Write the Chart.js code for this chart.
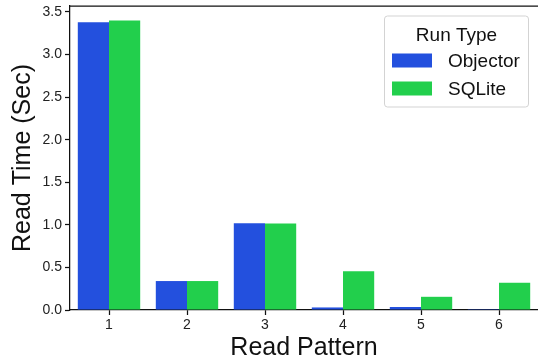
<!DOCTYPE html>
<html>
<head>
<meta charset="utf-8">
<script src="https://cdn.jsdelivr.net/npm/chart.js@4.4.1/dist/chart.umd.min.js"></script>
<style>
  html, body { margin: 0; padding: 0; background: #fff; }
  #wrap { width: 538px; height: 360px; }
</style>
</head>
<body>
<div id="wrap"><canvas id="c" width="538" height="360"></canvas></div>
<script>
// Read patterns on the x axis
const patterns = ['1', '2', '3', '4', '5', '6'];
// Read times in seconds for each run type
const objectorTimes = [3.38, 0.34, 1.02, 0.03, 0.035, 0.01];
const sqliteTimes = [3.40, 0.34, 1.015, 0.455, 0.155, 0.32];
const seriesNames = ['Objector', 'SQLite'];
const legendTitle = 'Run Type';
// Tick values on the time axis
const yTicks = [0, 0.5, 1.0, 1.5, 2.0, 2.5, 3.0, 3.5];

const FONT = "'Liberation Sans', Arial, sans-serif";
const BLUE = '#2350de';
const GREEN = '#22cf4c';

// Legend drawn inside the plot, in the upper right corner
const boxLegend = {
  id: 'boxLegend',
  afterDraw(chart) {
    const ctx = chart.ctx;
    const x = 384.5, y = 16, w = 144, h = 91;
    ctx.save();
    ctx.beginPath();
    ctx.roundRect(x, y, w, h, 3);
    ctx.fillStyle = 'rgba(255,255,255,0.8)';
    ctx.fill();
    ctx.strokeStyle = '#d3d3d3';
    ctx.lineWidth = 1;
    ctx.stroke();
    ctx.fillStyle = '#111';
    ctx.font = '19px ' + FONT;
    ctx.textAlign = 'center';
    ctx.textBaseline = 'alphabetic';
    ctx.fillText(legendTitle, x + w / 2, 40.5);
    ctx.textAlign = 'left';
    chart.data.datasets.forEach((ds, i) => {
      const rowY = 53.5 + i * 28;
      ctx.fillStyle = ds.backgroundColor;
      ctx.fillRect(392, rowY, 40, 14);
      ctx.fillStyle = '#111';
      ctx.fillText(ds.label, 448, rowY + 13.5);
    });
    ctx.restore();
  }
};

// Top spine of the axes frame
const topSpine = {
  id: 'topSpine',
  afterDraw(chart) {
    const { ctx, chartArea } = chart;
    ctx.save();
    ctx.strokeStyle = '#111';
    ctx.lineWidth = 1.25;
    ctx.beginPath();
    ctx.moveTo(chartArea.left, chartArea.top);
    ctx.lineTo(chartArea.right, chartArea.top);
    ctx.stroke();
    ctx.restore();
  }
};

new Chart(document.getElementById('c'), {
  type: 'bar',
  data: {
    labels: patterns,
    datasets: [
      { label: seriesNames[0], data: objectorTimes, backgroundColor: BLUE, borderWidth: 0 },
      { label: seriesNames[1], data: sqliteTimes, backgroundColor: GREEN, borderWidth: 0 }
    ]
  },
  options: {
    responsive: false,
    animation: false,
    devicePixelRatio: 1,
    layout: { padding: { top: 6, right: 0, left: 0, bottom: 0 } },
    datasets: { bar: { categoryPercentage: 0.8, barPercentage: 1.0 } },
    plugins: {
      legend: { display: false },
      tooltip: { enabled: false }
    },
    scales: {
      x: {
        offset: true,
        grid: { display: true, drawOnChartArea: false, drawTicks: true, tickLength: 5, tickColor: '#111', tickWidth: 1.25, offset: false },
        border: { display: true, color: '#111', width: 1.25 },
        ticks: { color: '#222', font: { family: FONT, size: 14 }, padding: 2, maxRotation: 0 },
        title: { display: true, text: 'Read Pattern', color: '#111',
                 font: { family: FONT, size: 25 }, padding: { top: 0, bottom: -3 } },
        afterFit(scale) {
          scale.height = 50;
          scale.paddingLeft = 0;
          scale.paddingRight = 0;
        }
      },
      y: {
        min: 0,
        max: 3.57,
        grid: { display: true, drawOnChartArea: false, drawTicks: true, tickLength: 5, tickColor: '#111', tickWidth: 1.25 },
        border: { display: true, color: '#111', width: 1.25 },
        ticks: {
          color: '#222',
          font: { family: FONT, size: 14 },
          padding: 3,
          callback: (v) => v.toFixed(1)
        },
        title: { display: true, text: 'Read Time (Sec)', color: '#111',
                 font: { family: FONT, size: 25 }, padding: { top: 8, bottom: 0 } },
        afterBuildTicks(scale) {
          scale.ticks = yTicks.map((v) => ({ value: v }));
        },
        afterFit(scale) {
          scale.width = 70;
          scale.paddingTop = 0;
          scale.paddingBottom = 0;
        }
      }
    }
  },
  plugins: [boxLegend, topSpine]
});
</script>
</body>
</html>
